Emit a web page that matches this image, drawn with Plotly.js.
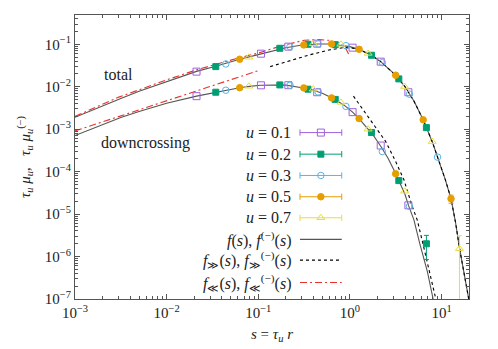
<!DOCTYPE html>
<html><head><meta charset="utf-8">
<script src="https://cdn.plot.ly/plotly-3.0.1.min.js"></script>
<style>html,body{margin:0;padding:0;background:#fff}#chart{width:498px;height:349px}</style>
</head><body><div id="chart"></div>
<script>
// ---- model curves ----
const S_F = [0.001, 0.002, 0.00316, 0.005, 0.01, 0.0212, 0.0344, 0.05, 0.0627, 0.1, 0.15, 0.2, 0.3, 0.45, 0.6, 0.8, 1.0, 1.26, 1.72, 2.17, 3.16, 4.0, 5.0, 6.31, 8.0, 9.05, 11.0, 12.7, 14.2, 15.7, 17.0, 20.0];
const F_TOTAL = [1.90e-3, 3.6e-3, 5.3e-3, 7.8e-3, 1.33e-2, 2.30e-2, 3.05e-2, 3.9e-2, 4.45e-2, 5.7e-2, 7.2e-2, 8.3e-2, 9.6e-2, 0.102, 0.102, 0.096, 0.088, 0.076, 0.055, 0.039, 1.87e-2, 1.0e-2, 4.6e-3, 1.66e-3, 4.8e-4, 2.2e-4, 6.5e-5, 2.3e-5, 6.5e-6, 1.6e-6, 6.5e-7, 9.0e-8];

const S_FBIG = [0.135, 0.218, 0.36, 0.59, 0.87, 1.07, 1.26, 1.72, 2.17, 3.16, 4.0, 5.0, 6.31, 8.0, 9.05, 11.0, 12.7, 14.2, 15.7, 17.0, 20.0];
const FBIG_TOTAL = [0.0298, 0.0406, 0.0561, 0.0735, 0.0841, 0.081, 0.0755, 0.055, 0.039, 1.87e-2, 1.0e-2, 4.6e-3, 1.66e-3, 4.8e-4, 2.2e-4, 6.5e-5, 2.3e-5, 6.5e-6, 1.6e-6, 6.5e-7, 9.0e-8];

const S_FSMALL = [0.001, 0.003, 0.01, 0.0212, 0.0627, 0.1, 0.173, 0.318, 0.464, 0.6, 0.8, 0.9, 1.0];
const FSMALL_TOTAL = [2.0e-3, 5.7e-3, 1.45e-2, 2.5e-2, 4.85e-2, 0.062, 0.090, 0.125, 0.1285, 0.124, 0.100, 0.081, 0.051];

const S_FD = [0.001, 0.002, 0.00316, 0.005, 0.01, 0.0212, 0.0344, 0.05, 0.0627, 0.08, 0.106, 0.15, 0.2, 0.3, 0.4, 0.5, 0.63, 0.8, 0.9, 1.07, 1.26, 1.55, 1.72, 2.2, 2.6, 3.16, 3.4, 4.0, 4.36, 5.0, 5.8, 7.0, 8.1];
const F_DOWN = [7.1e-4, 1.31e-3, 1.88e-3, 2.62e-3, 4.1e-3, 6.0e-3, 7.4e-3, 8.6e-3, 9.5e-3, 1.02e-2, 1.08e-2, 1.10e-2, 1.09e-2, 9.5e-3, 8.3e-3, 7.0e-3, 5.5e-3, 4.1e-3, 3.45e-3, 2.52e-3, 1.78e-3, 1.05e-3, 8.3e-4, 3.8e-4, 2.1e-4, 9.0e-5, 6.2e-5, 2.9e-5, 1.6e-5, 7.3e-6, 2.0e-6, 4.5e-7, 1.0e-7];

const S_FBIG_D = [1.094, 1.62, 2.46, 3.16, 3.89, 4.79, 5.43, 6.27, 8.61];
const FBIG_DOWN = [6.0e-3, 1.82e-3, 5.11e-4, 1.73e-4, 6.43e-5, 1.51e-5, 7.34e-6, 2.0e-6, 1.06e-7];

const S_FSMALL_D = [0.001, 0.003, 0.01, 0.03, 0.1];
const FSMALL_DOWN = [9.1e-4, 1.98e-3, 4.8e-3, 1.05e-2, 2.39e-2];

// ---- simulation data ----
const S01 = [0.0212, 0.107, 0.213, 0.44, 1.07, 2.17, 4.35];
const TOT01 = [0.0227, 0.0601, 0.0879, 0.1035, 0.0833, 0.0390, 7.43e-3];
const DOWN01 = [6.0e-3, 0.0108, 0.01087, 7.43e-3, 2.52e-3, 4.12e-4, 1.61e-5];

const S02 = [0.0344, 0.172, 0.349, 0.692, 1.72, 3.42, 6.84];
const TOT02 = [0.0298, 0.0806, 0.100, 0.098, 0.0552, 0.0153, 1.09e-3];
const DOWN02 = [7.43e-3, 0.01104, 8.75e-3, 5.03e-3, 8.34e-4, 6.15e-5, 2.0e-6];
const DOWN02_ERR = [NaN, NaN, NaN, NaN, NaN, NaN, 1.15e-6];

const S03 = [0.0442, 0.222, 0.45, 0.905, 2.26, 4.47, 9.05];
const TOT03 = [0.0344, 0.0879, 0.102, 0.0929, 0.037, 6.67e-3, 2.2e-4];
const DOWN03 = [8.28e-3, 0.01087, 7.55e-3, 3.45e-3, 2.98e-4, 1.53e-5, null];

const S05 = [0.0627, 0.314, 0.632, 1.26, 3.16, 6.31, 12.7];
const TOT05 = [0.0445, 0.0965, 0.102, 0.0763, 0.0187, 1.66e-3, 2.3e-5];
const TOT05_ERR = [NaN, NaN, NaN, NaN, NaN, NaN, 5e-6];
const DOWN05 = [9.5e-3, 9.38e-3, 5.46e-3, 1.78e-3, 8.9e-5, null, null];

const S07 = [0.0791, 0.399, 0.798, 1.58, 3.96, 7.91, 15.7];
const TOT07 = [0.0495, 0.1025, 0.100, 0.061, 0.0101, 5.11e-4, 1.53e-6];
const TOT07_ERR = [NaN, NaN, NaN, NaN, NaN, NaN, 1.56e-6];
const DOWN07 = [0.01028, 8.75e-3, 4.28e-3, 1.0e-3, 3.45e-5, null, null];

const U_LABELS = ['<i>u</i> = 0.1', '<i>u</i> = 0.2', '<i>u</i> = 0.3', '<i>u</i> = 0.5', '<i>u</i> = 0.7'];
const CURVE_LABELS = [
  '<i>f</i>(<i>s</i>), <i>f</i><sup>(−)</sup>(<i>s</i>)',
  '<i>f</i><sub>≫</sub>(<i>s</i>), <i>f</i><sub>≫</sub><sup>(−)</sup>(<i>s</i>)',
  '<i>f</i><sub>≪</sub>(<i>s</i>), <i>f</i><sub>≪</sub><sup>(−)</sup>(<i>s</i>)'
];
const X_TICKVALS = [1e-3, 1e-2, 1e-1, 1, 10];
const X_TICKTEXT = ['10<sup>−3</sup>', '10<sup>−2</sup>', '10<sup>−1</sup>', '10<sup>0</sup>', '10<sup>1</sup>'];
const Y_TICKVALS = [1e-7, 1e-6, 1e-5, 1e-4, 1e-3, 1e-2, 1e-1];
const Y_TICKTEXT = ['10<sup>−7</sup>', '10<sup>−6</sup>', '10<sup>−5</sup>', '10<sup>−4</sup>', '10<sup>−3</sup>', '10<sup>−2</sup>', '10<sup>−1</sup>'];

// ---- styles ----
const FONT = "'Liberation Serif', 'DejaVu Serif', serif";
const COLORS = ['#a060dd', '#009e73', '#56b4e9', '#e69f00', '#e8dc40'];
const SYMBOLS = ['square-open', 'square', 'circle-open', 'circle', 'triangle-up-open'];
const SIZES = [7, 6, 6.5, 6.5, 7];
const SOLID = {color: '#555555', width: 1.1};
const DASHED = {color: '#000000', width: 1.1, dash: '3px,3px'};
const REDDD = {color: '#e8322a', width: 1.1, dash: '7px,3px,2px,3px'};

function minorTicks(lo, hi) {
  const out = [];
  for (let d = lo; d <= hi; d++) for (let k = 2; k <= 9; k++) out.push(k * Math.pow(10, d));
  return out;
}

const traces = [];
function line(x, y, style) { traces.push({x, y, type: 'scatter', mode: 'lines', line: style, hoverinfo: 'skip', showlegend: false}); }
line(S_F, F_TOTAL, SOLID);
line(S_FD, F_DOWN, SOLID);
line(S_FBIG, FBIG_TOTAL, DASHED);
line(S_FBIG_D, FBIG_DOWN, DASHED);
line(S_FSMALL, FSMALL_TOTAL, REDDD);
line(S_FSMALL_D, FSMALL_DOWN, REDDD);

const SETS = [
  [S01, TOT01, null, DOWN01, null],
  [S02, TOT02, null, DOWN02, DOWN02_ERR],
  [S03, TOT03, null, DOWN03, null],
  [S05, TOT05, TOT05_ERR, DOWN05, null],
  [S07, TOT07, TOT07_ERR, DOWN07, null]
];
SETS.forEach((set, i) => {
  const [s, tot, totErr, down, downErr] = set;
  const mk = {symbol: SYMBOLS[i], size: SIZES[i], color: COLORS[i], line: {color: COLORS[i], width: 1}};
  const mkTrace = (y, err) => {
    const t = {x: s, y, type: 'scatter', mode: 'markers', marker: mk, showlegend: false, hoverinfo: 'skip'};
    if (err) t.error_y = {type: 'data', array: err, visible: true, color: COLORS[i], thickness: 1, width: 2.5};
    return t;
  };
  traces.push(mkTrace(tot, totErr));
  traces.push(mkTrace(down, downErr));
});

// ---- custom legend (gnuplot style: text left, sample right) ----
const LEG_Y = [0.586, 0.510, 0.435, 0.360, 0.286, 0.210, 0.137, 0.058];
const LX0 = 0.571, LX1 = 0.677, LXM = 0.624, LTX = 0.553;
const shapes = [];
const annotations = [];
U_LABELS.forEach((lab, i) => {
  traces.push({x: [LX0, LX1], y: [LEG_Y[i], LEG_Y[i]], xaxis: 'x2', yaxis: 'y2', type: 'scatter', mode: 'lines',
    line: {color: COLORS[i], width: 1}, showlegend: false, hoverinfo: 'skip'});
  traces.push({x: [LXM], y: [LEG_Y[i]], xaxis: 'x2', yaxis: 'y2', type: 'scatter', mode: 'markers',
    marker: {symbol: SYMBOLS[i], size: SIZES[i], color: COLORS[i], line: {color: COLORS[i], width: 1}}, showlegend: false, hoverinfo: 'skip'});
  [LX0, LX1].forEach(xx => shapes.push({type: 'line', xref: 'paper', yref: 'paper', x0: xx, x1: xx,
    y0: LEG_Y[i] - 0.011, y1: LEG_Y[i] + 0.011, line: {color: COLORS[i], width: 1}}));
  annotations.push({xref: 'paper', yref: 'paper', x: LTX, y: LEG_Y[i], xanchor: 'right', yanchor: 'middle',
    text: lab, showarrow: false, font: {family: FONT, size: 16, color: '#222'}});
});
[SOLID, DASHED, REDDD].forEach((st, j) => {
  const yy = LEG_Y[5 + j];
  traces.push({x: [LX0, LX1], y: [yy, yy], xaxis: 'x2', yaxis: 'y2', type: 'scatter', mode: 'lines',
    line: st, showlegend: false, hoverinfo: 'skip'});
  annotations.push({xref: 'paper', yref: 'paper', x: LTX, y: yy, xanchor: 'right', yanchor: 'middle',
    text: CURVE_LABELS[j], showarrow: false, font: {family: FONT, size: 16, color: '#222'}});
});
annotations.push({xref: 'paper', yref: 'paper', x: 0.111, y: 0.792, xanchor: 'center', yanchor: 'middle',
  text: 'total', showarrow: false, font: {family: FONT, size: 16, color: '#222'}});
annotations.push({xref: 'paper', yref: 'paper', x: 0.179, y: 0.548, xanchor: 'center', yanchor: 'middle',
  text: 'downcrossing', showarrow: false, font: {family: FONT, size: 16, color: '#222'}});

const axisCommon = {
  type: 'log', showgrid: false, zeroline: false, showline: true, linecolor: '#555', linewidth: 1,
  mirror: 'allticks', ticks: 'inside', ticklen: 5, tickcolor: '#555', tickmode: 'array',
  tickfont: {family: FONT, size: 15, color: '#222'}
};

const layout = {
  width: 498, height: 349, margin: {l: 75, r: 29, t: 15, b: 50},
  paper_bgcolor: '#fff', plot_bgcolor: '#fff', showlegend: false,
  font: {family: FONT, size: 15, color: '#222'},
  xaxis: Object.assign({}, axisCommon, {
    range: [-3, 1.3], tickvals: X_TICKVALS, ticktext: X_TICKTEXT,
    minor: {tickmode: 'array', tickvals: minorTicks(-3, 1), ticks: 'inside', ticklen: 3, tickcolor: '#555', showgrid: false},
    title: {text: '<i>s</i> = <i>τ<sub>u</sub></i> <i>r</i>', font: {family: FONT, size: 15, color: '#222'}, standoff: 8}
  }),
  yaxis: Object.assign({}, axisCommon, {
    range: [-7, -0.31], tickvals: Y_TICKVALS, ticktext: Y_TICKTEXT,
    minor: {tickmode: 'array', tickvals: minorTicks(-7, -1), ticks: 'inside', ticklen: 3, tickcolor: '#555', showgrid: false},
    title: {text: '<i>τ<sub>u</sub> μ<sub>u</sub></i>,   <i>τ<sub>u</sub> μ<sub>u</sub></i><sup>(−)</sup>', font: {family: FONT, size: 15, color: '#222'}, standoff: 10}
  }),
  xaxis2: {overlaying: 'x', anchor: 'y2', range: [0, 1], visible: false, fixedrange: true},
  yaxis2: {overlaying: 'y', anchor: 'x2', range: [0, 1], visible: false, fixedrange: true},
  shapes, annotations
};

Plotly.newPlot('chart', traces, layout, {displayModeBar: false, staticPlot: true});
</script></body></html>
